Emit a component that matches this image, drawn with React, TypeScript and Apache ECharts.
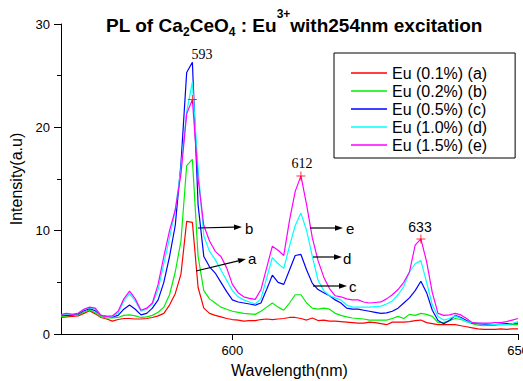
import React, { useEffect, useRef } from "react";
import * as echarts from "echarts";

// Wavelength grid (nm), 1 nm steps from 570 to 650
const START_NM = 570;

// Intensity (a.u.) per sample
const euA = [1.6,1.65,1.7,1.75,2.0,2.25,1.95,1.6,1.45,1.25,1.4,1.5,1.5,1.45,1.45,1.5,1.6,1.75,2.0,2.8,3.9,5.8,10.9,10.8,4.5,2.5,2.0,1.8,1.65,1.5,1.4,1.35,1.25,1.3,1.3,1.4,1.45,1.4,1.45,1.5,1.6,1.6,1.5,1.35,1.55,1.3,1.35,1.25,1.25,1.2,1.15,1.1,1.05,1.05,1.15,1.1,1.0,0.9,1.15,1.15,1.15,1.2,1.3,1.35,1.1,1.0,0.9,0.9,0.9,0.9,0.8,0.7,0.6,0.5,0.45,0.45,0.45,0.5,0.45,0.5,0.5];
const euB = [1.7,1.75,1.8,1.85,2.1,2.35,2.05,1.65,1.55,1.55,1.6,1.8,1.85,1.75,1.6,1.65,1.8,2.1,2.6,3.8,6.0,9.0,16.3,16.9,7.5,4.2,3.4,3.0,2.6,2.4,2.2,2.1,2.0,1.95,1.9,2.2,2.6,3.0,2.6,2.3,3.0,3.8,3.8,3.0,2.5,2.4,2.5,2.4,2.0,1.8,1.65,1.55,1.5,1.45,1.35,1.35,1.35,1.35,1.5,1.7,1.5,1.9,1.8,2.0,1.9,1.7,1.1,1.1,1.3,1.5,1.4,1.2,1.0,0.85,0.8,0.85,0.85,0.9,0.9,0.9,0.9];
const euC = [1.8,1.8,1.85,1.95,2.25,2.45,2.25,1.8,1.7,1.65,1.8,2.4,2.8,2.4,1.85,2.0,2.5,3.3,5.0,7.5,10.5,16.5,25.3,26.3,12.5,7.5,6.5,5.9,5.0,4.1,3.3,3.1,3.0,2.9,2.8,3.0,4.3,5.7,5.0,4.8,6.2,7.6,7.7,6.2,4.9,4.3,4.0,3.7,3.3,3.0,2.5,2.4,2.4,2.3,2.2,2.1,2.0,2.05,2.2,2.5,3.0,3.5,4.2,5.1,4.0,2.3,1.3,1.0,1.3,1.8,1.6,1.3,1.05,1.0,0.95,0.9,0.9,0.95,1.0,1.0,1.05];
const euD = [1.85,1.9,1.9,2.0,2.35,2.55,2.4,1.8,1.7,1.7,2.0,3.2,3.9,3.2,2.2,2.4,2.9,4.3,6.8,9.3,12.0,16.0,21.5,24.4,16.0,9.5,8.0,7.2,6.2,5.2,4.2,3.6,3.3,3.1,2.9,3.4,5.4,7.4,6.8,6.35,8.5,10.5,11.7,10.0,7.5,5.2,4.2,3.7,3.5,3.3,2.8,2.6,2.6,2.6,2.6,2.65,2.7,2.9,3.2,3.8,4.6,6.0,6.8,7.1,5.0,2.8,1.7,1.35,1.5,1.75,1.5,1.2,1.1,1.05,1.0,0.95,0.9,0.9,0.9,1.0,1.2];
const euE = [1.9,2.0,1.9,2.0,2.4,2.6,2.5,1.8,1.7,1.75,2.2,3.4,4.15,3.4,2.3,2.5,3.0,4.8,7.5,10.0,12.0,15.5,21.3,22.7,15.0,10.5,9.0,8.0,7.5,6.4,4.8,4.0,3.6,3.45,3.35,4.3,6.4,8.5,8.1,7.6,11.0,13.8,15.3,12.5,9.3,7.1,5.5,4.4,3.7,3.6,3.4,3.3,3.3,3.1,3.0,3.05,3.1,3.4,3.8,4.3,5.0,6.0,8.6,9.2,7.0,4.0,2.0,1.8,1.85,2.0,1.85,1.5,1.1,1.05,1.05,1.05,1.1,1.1,1.2,1.35,1.5];

const seriesNames = ["Eu (0.1%) (a)", "Eu (0.2%) (b)", "Eu (0.5%) (c)", "Eu (1.0%) (d)", "Eu (1.5%) (e)"];
const seriesColors = ["#ff0000", "#00ee00", "#0000ff", "#00ffff", "#ff00ff"];
const seriesValues = [euA, euB, euC, euD, euE];

// Marked peaks (on the 1.5% curve)
const peakNm = [593, 612, 633];
const peakVal = [22.7, 15.3, 9.2];

const xTickValues = [600, 650];

const SANS = "'Liberation Sans', Arial, Helvetica, sans-serif";
const SERIF = "'Liberation Serif', 'Times New Roman', serif";

function arrow(x1: number, y1: number, x2: number, y2: number) {
  const ang = Math.atan2(y2 - y1, x2 - x1);
  const hl = 8, hw = 2.8;
  const bx = x2 - hl * Math.cos(ang), by = y2 - hl * Math.sin(ang);
  const px = -Math.sin(ang) * hw, py = Math.cos(ang) * hw;
  return [
    { type: "line", shape: { x1, y1, x2: bx, y2: by }, style: { stroke: "#000", lineWidth: 1.2 }, z: 100 },
    { type: "polygon", shape: { points: [[x2, y2], [bx + px, by + py], [bx - px, by - py]] }, style: { fill: "#000" }, z: 100 },
  ];
}

function letter(t: string, x: number, y: number) {
  return { type: "text", x, y, z: 100, style: { text: t, fill: "#000", font: `15px ${SANS}`, textAlign: "left", textVerticalAlign: "middle" } };
}

export default function App() {
  const ref = useRef<HTMLDivElement>(null);
  useEffect(() => {
    if (!ref.current) return;
    const chart = echarts.init(ref.current, null, { renderer: "svg" });
    const wavelengths = euA.map((_, i) => START_NM + i);
    const lineSeries = seriesValues.map((vals, k) => ({
      name: seriesNames[k],
      type: "line",
      symbol: "none",
      showSymbol: false,
      color: seriesColors[k],
      lineStyle: { color: seriesColors[k], width: 1.2 },
      data: vals.map((v, i) => [wavelengths[i], v]),
      z: 2 + k,
    }));
    chart.setOption({
      animation: false,
      backgroundColor: "#fff",
      title: {
        left: 106,
        top: 12,
        padding: 0,
        text: "{m|PL of Ca}{s|2}{m|CeO}{s|4}{m| : Eu}{p|3+}{m|with254nm excitation}",
        textStyle: {
          rich: {
            m: { fontSize: 19, fontWeight: "bold", fontFamily: SANS, color: "#000", lineHeight: 26, verticalAlign: "middle" },
            s: { fontSize: 12, fontWeight: "bold", fontFamily: SANS, color: "#000", verticalAlign: "bottom" },
            p: { fontSize: 12, fontWeight: "bold", fontFamily: SANS, color: "#000", verticalAlign: "top", padding: [-4, 0, 0, 0] },
          },
        },
      },
      legend: {
        data: seriesNames,
        orient: "vertical",
        left: 334,
        top: 53,
        padding: [12, 28, 5, 17],
        icon: "rect",
        itemWidth: 36,
        itemHeight: 1.5,
        itemGap: 2,
        borderColor: "#000",
        borderWidth: 1,
        textStyle: { fontSize: 16, fontFamily: SANS, color: "#000" },
      },
      grid: { left: 61, right: 5, top: 24, bottom: 47, containLabel: false, outerBoundsMode: "none" },
      xAxis: {
        type: "value",
        min: 570,
        max: 650,
        name: "Wavelength(nm)",
        nameLocation: "middle",
        nameGap: 28,
        nameTextStyle: { fontSize: 16, fontFamily: SANS, color: "#000" },
        axisLine: { lineStyle: { color: "#000", width: 1 } },
        axisTick: { customValues: xTickValues, length: 6, lineStyle: { color: "#000" } },
        axisLabel: { customValues: xTickValues, fontSize: 13, fontFamily: SANS, color: "#000", margin: 10, hideOverlap: false },
        splitLine: { show: false },
      },
      yAxis: {
        type: "value",
        min: 0,
        max: 30,
        interval: 10,
        name: "Intensity(a.u)",
        nameLocation: "middle",
        nameGap: 33,
        nameTextStyle: { fontSize: 16, fontFamily: SANS, color: "#000" },
        axisLine: { show: true, lineStyle: { color: "#000", width: 1 } },
        axisTick: { show: true, length: 7, lineStyle: { color: "#000" } },
        minorTick: { show: true, splitNumber: 2, length: 4, lineStyle: { color: "#000" } },
        axisLabel: { fontSize: 13, fontFamily: SANS, color: "#000", margin: 11 },
        splitLine: { show: false },
      },
      series: [
        ...lineSeries,
        {
          name: "peaks",
          type: "scatter",
          symbol: "path://M4,0H5V4H9V5H5V9H4V5H0V4H4Z",
          symbolSize: 9,
          itemStyle: { color: "#ff0000" },
          data: peakNm.map((x, i) => [x, peakVal[i]]),
          z: 20,
        },
      ],
      graphic: [
        { type: "text", x: 202, y: 54, z: 100, style: { text: "593", fill: "#000", font: `14px ${SERIF}`, textAlign: "center", textVerticalAlign: "middle" } },
        { type: "text", x: 302, y: 163, z: 100, style: { text: "612", fill: "#000", font: `14px ${SERIF}`, textAlign: "center", textVerticalAlign: "middle" } },
        { type: "text", x: 420, y: 227, z: 100, style: { text: "633", fill: "#000", font: `14px ${SANS}`, textAlign: "center", textVerticalAlign: "middle" } },
        ...arrow(198, 228, 242, 227),
        letter("b", 245, 228),
        ...arrow(196, 271, 246, 259),
        letter("a", 248, 258),
        ...arrow(310, 228, 343, 228),
        letter("e", 346, 228),
        ...arrow(313, 257, 342, 257),
        letter("d", 343, 258),
        ...arrow(313, 286, 347, 286),
        letter("c", 349, 286),
      ],
    });
    return () => chart.dispose();
  }, []);
  return <div ref={ref} style={{ position: "fixed", left: 0, top: 0, width: 523, height: 381, background: "#fff" }} />;
}
